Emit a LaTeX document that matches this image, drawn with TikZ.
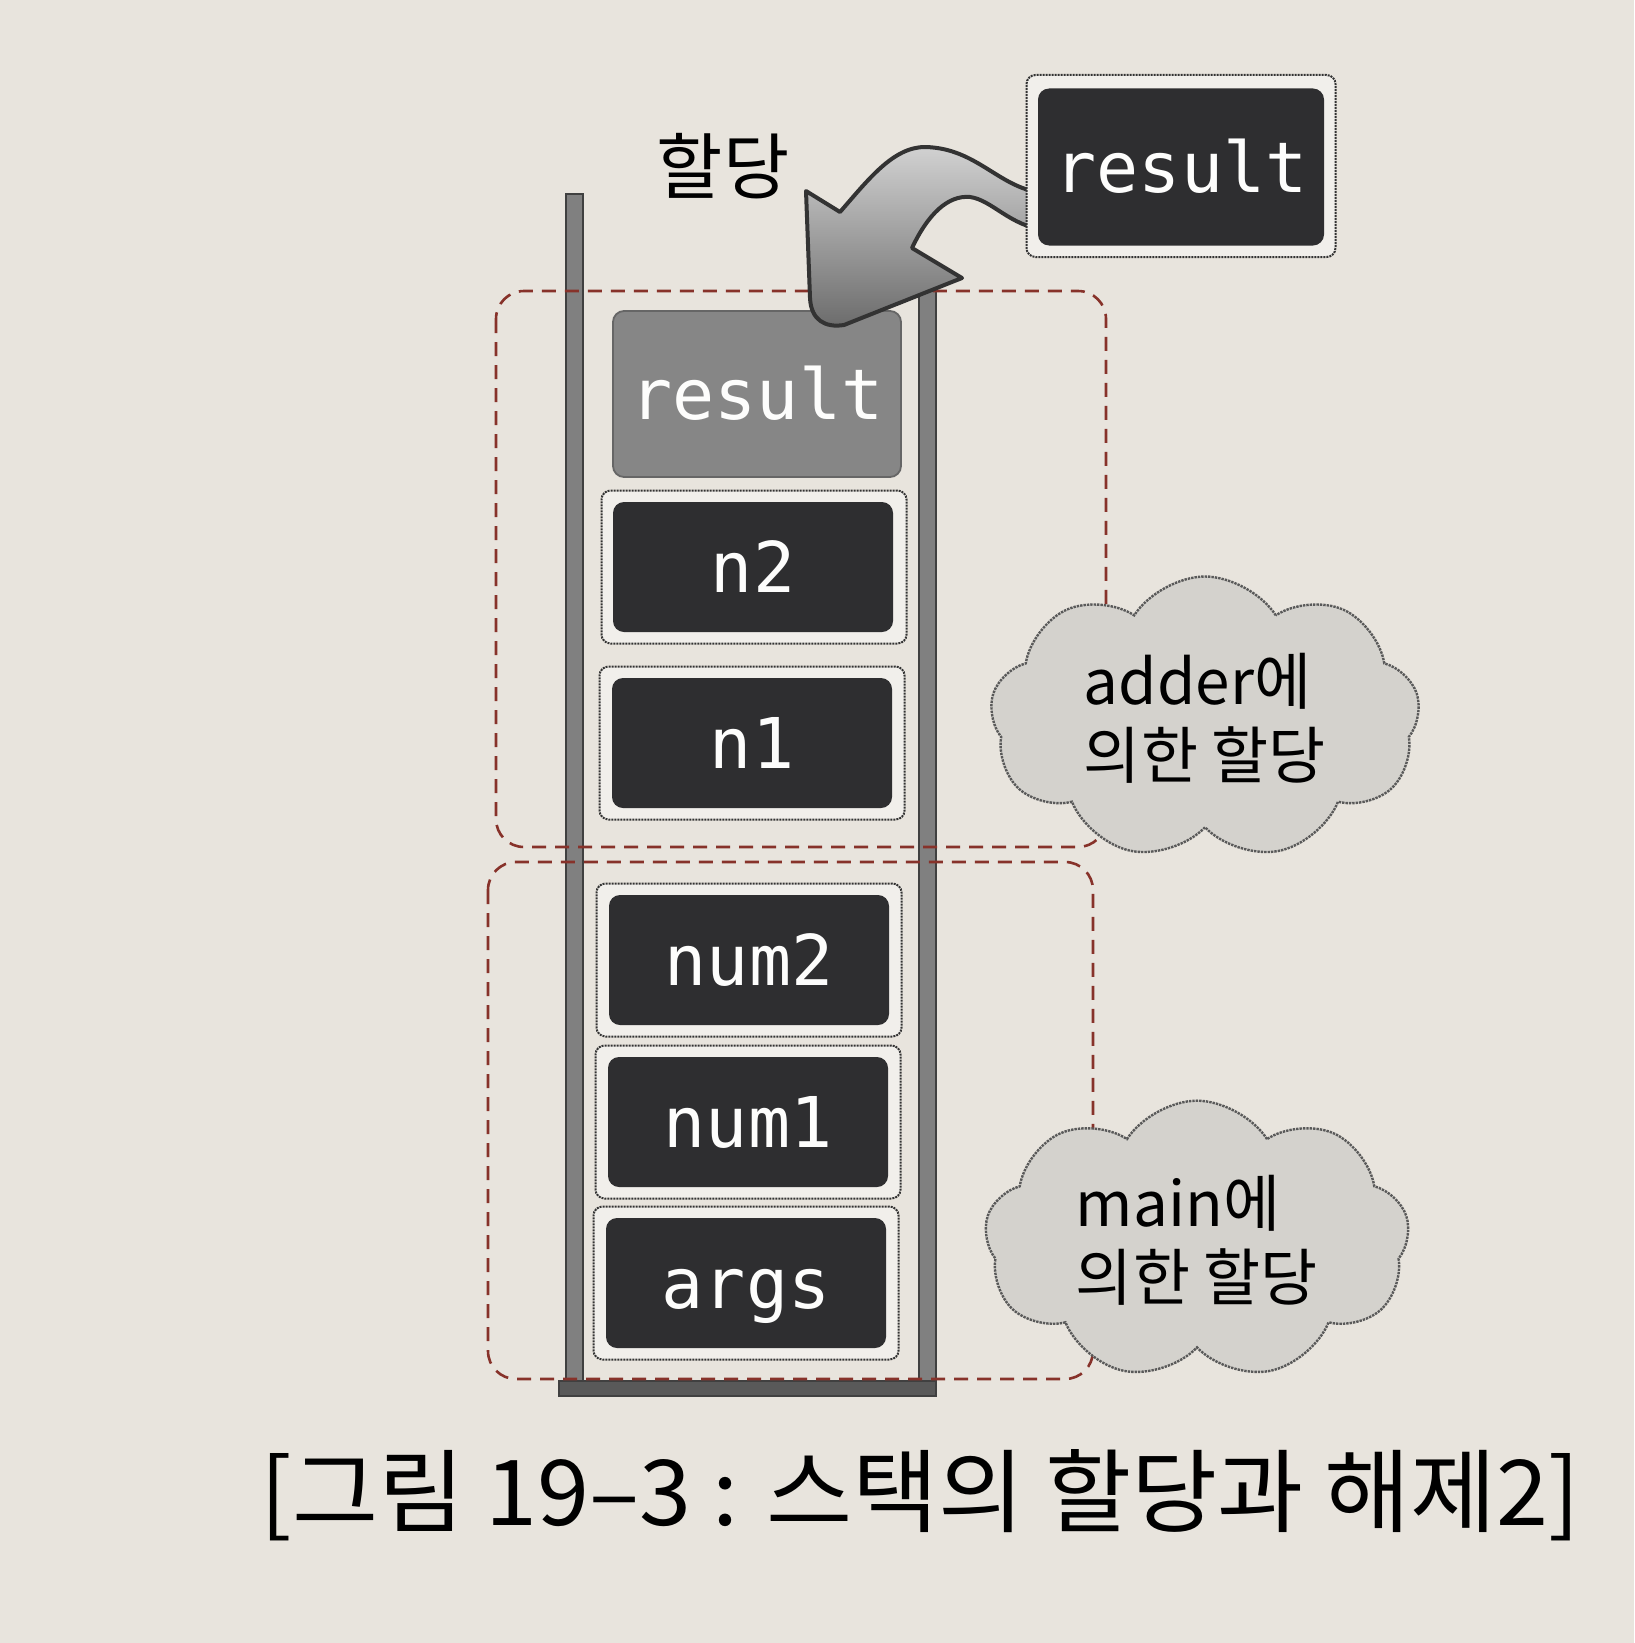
\documentclass[tikz,border=0pt]{standalone}
\usepackage{fontspec}
\usepackage{graphicx}
\usepackage{tikz}
\usetikzlibrary{shapes.symbols}
\newfontfamily\kr{Noto Sans CJK KR}
\newfontfamily\mono{DejaVu Sans Mono}
\definecolor{paper}{RGB}{232,228,221}
\definecolor{ink}{RGB}{46,46,48}
\definecolor{dashred}{RGB}{135,50,42}
\definecolor{halftone}{RGB}{128,128,128}
\definecolor{puff}{RGB}{212,210,205}

\tikzset{
  slot/.style={draw=black!80,densely dotted,line width=2,rounded corners=9,fill=paper!60!white,minimum width=305,minimum height=153},
  cell/.style={fill=ink,rounded corners=11,text=white!92!paper,font=\mono\fontsize{70}{70}\selectfont,text height=51,text depth=0,inner sep=0,minimum width=280,minimum height=130},
  frame/.style={draw=dashred,dash pattern=on 14pt off 9pt,line width=2.6,rounded corners=28},
  wall/.style={fill=halftone,draw=black!75,line width=1.6},
  note/.style={cloud,cloud puffs=9,cloud puff arc=115,aspect=1.5,fill=puff,draw=black!65,densely dotted,line width=2.4,inner sep=0,align=left,font=\kr\fontsize{62}{74}\selectfont}
}

\begin{document}
\begin{tikzpicture}[x=1pt,y=-1pt]
  \fill[paper] (0,0) rectangle (1634,1643);
  \useasboundingbox (0,0) rectangle (1634,1643);

  % stack
  \draw[wall] (566,194) rectangle (583,1394);
  \draw[wall] (919,283) rectangle (936,1394);
  \draw[wall,fill=black!65] (559,1381) rectangle (936,1396);

  \draw[frame] (496,291) rectangle (1106,847);
  \draw[frame] (488,862) rectangle (1093,1379);

  \node[cell,fill=halftone!95,draw=black!60,line width=1.8,minimum width=288,minimum height=166] (res) at (757,394) {result};
  \node[slot] (n2slot) at (754,567) {};
  \node[cell] (n2) at (753,567) {n2};
  \node[slot] (n1slot) at (752,743) {};
  \node[cell] (n1) at (752,743) {n1};
  \node[slot] (num2slot) at (749,960) {};
  \node[cell] (num2) at (749,960) {num2};
  \node[slot] (num1slot) at (748,1122) {};
  \node[cell] (num1) at (748,1122) {num1};
  \node[slot] (argsslot) at (746,1283) {};
  \node[cell] (args) at (746,1283) {args};

  \node[font=\kr\fontsize{72}{72}\selectfont] (alloc) at (723,166) {할당};

  % arrow
  \draw[top color=black!18,bottom color=black!58,draw=black!80,line width=4,line join=round]
    (1045,193) .. controls (1000,190) and (978,148) .. (925,147)
    .. controls (893,147) and (868,180) .. (840,212)
    -- (806,191) -- (810,298) .. controls (811,320) and (825,328) .. (844,325)
    -- (962,278) -- (912,248)
    .. controls (928,214) and (948,195) .. (970,197)
    .. controls (992,200) and (1010,226) .. (1045,230) -- cycle;

  \node[slot,minimum width=309,minimum height=182] (topslot) at (1181,166) {};
  \node[cell,minimum width=286,minimum height=157] (top) at (1181,167) {result};

  \node[note,minimum width=430,minimum height=283] (adder) at (1205,718) {adder에\\의한 할당};
  \node[note,minimum width=425,minimum height=267] (main) at (1197,1240) {main에\\의한 할당};

  \node[anchor=base west,font=\kr\fontsize{76}{80}\selectfont] (cap) at (257,1525) {\resizebox{1320pt}{76pt}{[그림 19–3 : 스택의 할당과 해제2]}};
\end{tikzpicture}
\end{document}
